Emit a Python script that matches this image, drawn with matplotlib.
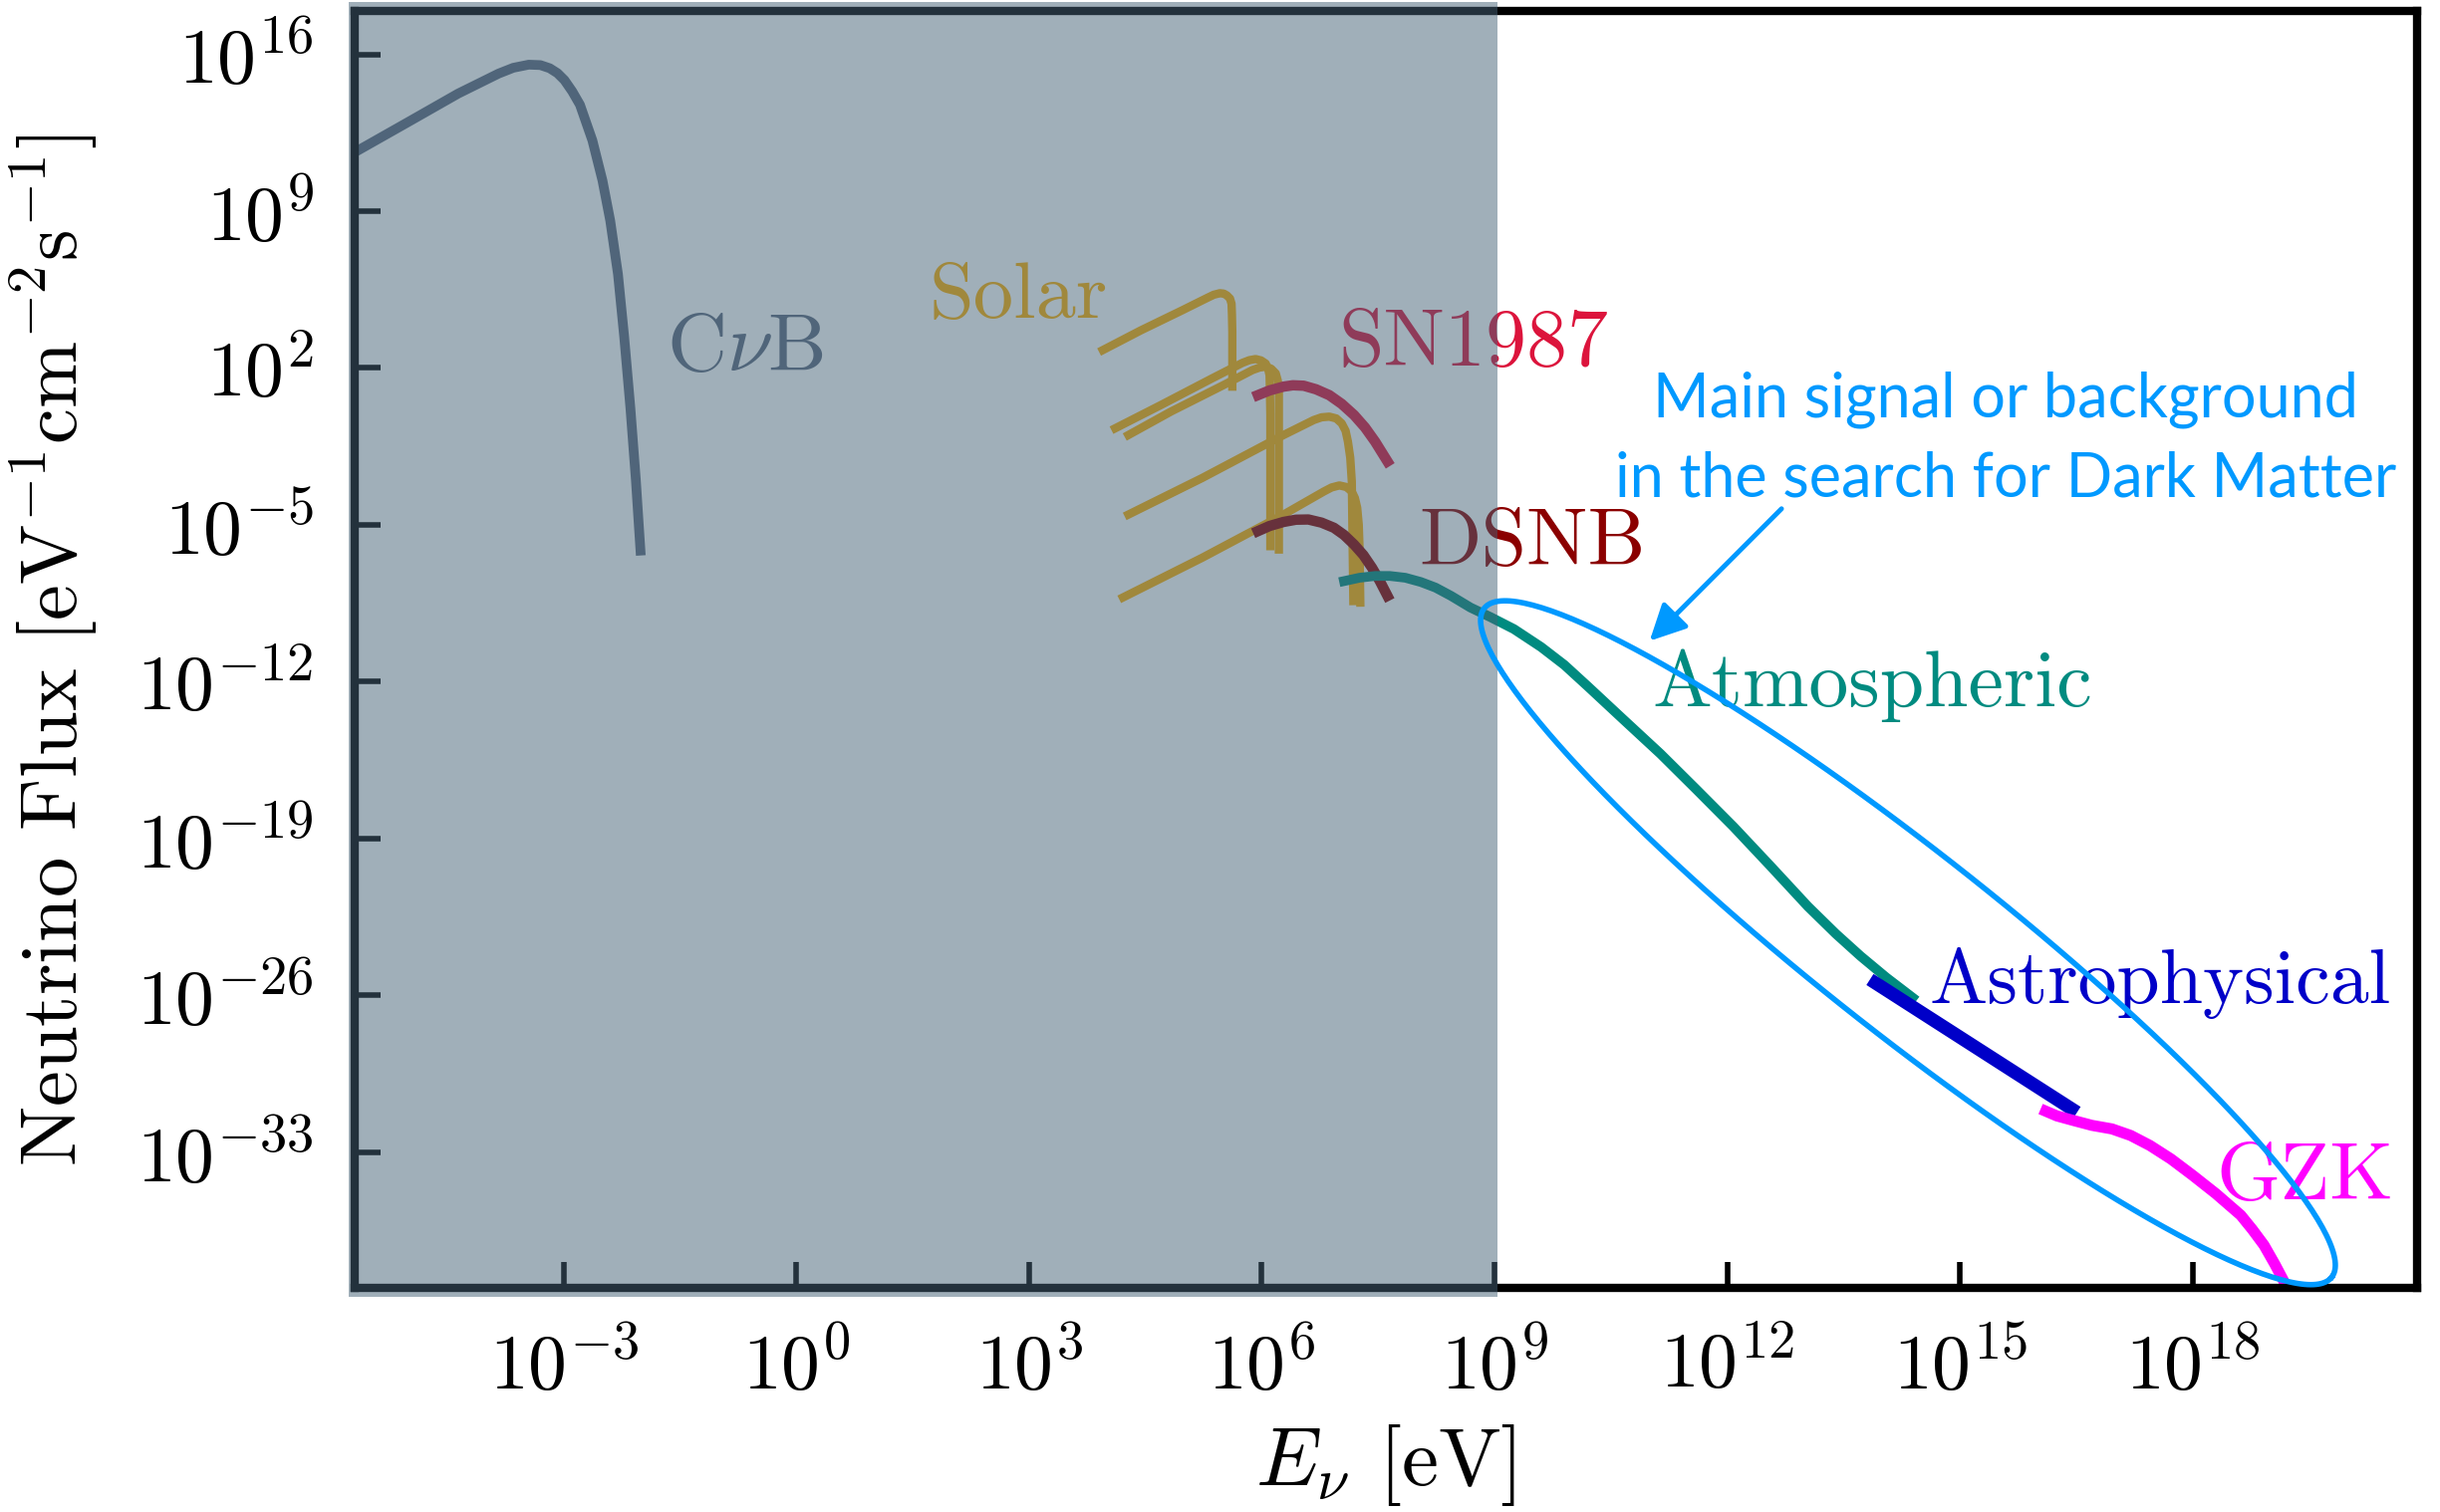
import numpy as np
import matplotlib.pyplot as plt
from matplotlib import font_manager

# All values are log10(E / eV) and log10(flux)
CNUB_LOGE = [-5.75, -5.02, -4.36, -3.84, -3.65, -3.45, -3.30, -3.18, -3.08,
             -2.99, -2.89, -2.79, -2.63, -2.50, -2.40, -2.30, -2.22, -2.14,
             -2.07, -2.01]
CNUB_LOGF = [11.52, 12.95, 14.25, 15.14, 15.40, 15.54, 15.52, 15.38, 15.16,
             14.85, 14.35, 13.75, 12.16, 10.37, 8.58, 6.19, 3.40, 0.22,
             -2.97, -6.15]

SOLAR_LOGE = [
    [3.95, 4.44, 4.97, 5.29, 5.38, 5.46, 5.51, 5.55, 5.59, 5.61, 5.615,
     5.62, 5.62],
    [4.11, 4.70, 5.36, 5.75, 5.84, 5.92, 5.99, 6.05, 6.08, 6.10, 6.105,
     6.11, 6.11],
    [4.28, 4.83, 5.49, 5.88, 5.97, 6.05, 6.12, 6.18, 6.205, 6.22, 6.22,
     6.22],
    [4.28, 5.23, 6.28, 6.67, 6.77, 6.87, 6.96, 7.03, 7.08, 7.11, 7.14, 7.16,
     7.18],
    [4.21, 5.23, 6.28, 6.80, 6.90, 7.00, 7.09, 7.16, 7.20, 7.23, 7.25, 7.26,
     7.27],
]
SOLAR_LOGF = [
    [2.80, 3.68, 4.57, 5.12, 5.27, 5.34, 5.32, 5.24, 5.10, 4.87, 4.40, 3.61,
     1.17],
    [-0.69, 0.35, 1.54, 2.23, 2.35, 2.40, 2.34, 2.20, 1.98, 1.68, 0.90,
     -0.10, -5.95],
    [-0.99, 0.06, 1.21, 1.91, 2.02, 2.06, 1.97, 1.76, 1.45, 1.09, 0.00,
     -6.10],
    [-4.54, -2.91, -0.99, -0.32, -0.20, -0.17, -0.25, -0.47, -0.80, -1.28,
     -2.00, -3.06, -8.40],
    [-8.24, -6.47, -4.54, -3.51, -3.33, -3.24, -3.31, -3.51, -3.80, -4.24,
     -5.00, -6.02, -8.47],
]

SN1987_LOGE = [5.95, 6.10, 6.28, 6.40, 6.54, 6.70, 6.87, 7.03, 7.19, 7.33,
               7.46, 7.62]
SN1987_LOGF = [0.79, 1.00, 1.17, 1.23, 1.21, 1.05, 0.79, 0.40, -0.10, -0.65,
               -1.28, -2.17]

DSNB_LOGE = [5.95, 6.10, 6.28, 6.44, 6.60, 6.77, 6.93, 7.06, 7.19, 7.31,
             7.42, 7.52, 7.62]
DSNB_LOGF = [-5.28, -5.05, -4.87, -4.77, -4.76, -4.90, -5.13, -5.45, -5.88,
             -6.35, -6.91, -7.50, -8.17]

ATM_LOGE = [7.06, 7.26, 7.46, 7.65, 7.85, 8.05, 8.24, 8.44, 8.69, 8.95,
            9.25, 9.60, 9.90, 10.20, 10.65, 11.14, 11.60, 12.08, 12.55,
            13.04, 13.40, 13.72, 14.05, 14.39]
ATM_LOGF = [-7.51, -7.36, -7.28, -7.28, -7.36, -7.55, -7.80, -8.17, -8.69,
            -9.12, -9.65, -10.45, -11.25, -12.20, -13.65, -15.22, -16.80,
            -18.47, -20.20, -22.03, -23.25, -24.25, -25.20, -26.10]

ASTRO_LOGE = [13.84, 16.51]
ASTRO_LOGF = [-25.29, -31.22]

GZK_LOGE = [16.04, 16.25, 16.47, 16.70, 16.96, 17.20, 17.45, 17.72, 18.00,
            18.30, 18.62, 18.77, 18.92, 19.06, 19.20]
GZK_LOGF = [-31.07, -31.38, -31.59, -31.80, -31.96, -32.25, -32.70, -33.30,
            -34.03, -34.85, -35.81, -36.45, -37.15, -38.00, -38.92]

# text, left log10 E, baseline log10 flux, colour, size
LABELS = [
    (r'C$\nu$B', -1.68, 1.90, '#5c6a7f', 60),
    ('Solar', 1.71, 4.26, '#ffb000', 58),
    ('SN1987', 6.99, 2.11, '#dc143c', 59),
    ('DSNB', 8.03, -6.78, '#8b0000', 59),
    ('Atmospheric', 11.04, -13.10, '#008b80', 57.5),
    ('Astrophysical', 14.61, -26.36, '#0000c8', 56),
    ('GZK', 18.30, -35.11, '#ff00ff', 59),
]

XTICKS_LOG = [-3, 0, 3, 6, 9, 12, 15, 18]
YTICKS_LOG = [16, 9, 2, -5, -12, -19, -26, -33]
XLIM_LOG = (-5.69, 20.89)
YLIM_LOG = (-39.07, 17.94)
SHADE_MAX_LOG = 9.04

# DM region ellipse (centre in log10, semi axes in decades of E)
ELL_CENTER = (14.33, -23.65)
ELL_A, ELL_B, ELL_ANGLE = 6.96, 1.163, 38.3
ARROW_FROM = (12.70, -4.28)
ARROW_TO = (11.0, -10.18)
DM_TEXT = ['Main signal or background', 'in the search for Dark Matter']
DM_TEXT_X = 15.59
DM_TEXT_Y = [-0.18, -3.72]
DM_BLUE = '#0099ff'

plt.rcParams['font.family'] = 'serif'
plt.rcParams['font.serif'] = ['cmr10']
plt.rcParams['mathtext.fontset'] = 'cm'
plt.rcParams['axes.unicode_minus'] = False

names = {f.name for f in font_manager.fontManager.ttflist}
sans = 'Lato' if 'Lato' in names else 'DejaVu Sans'

FIG_W, FIG_H = 24.49, 15.18
AX_RECT = [0.1455, 0.148, 0.845, 0.8448]
fig = plt.figure(figsize=(FIG_W, FIG_H), dpi=100)
ax = fig.add_axes(AX_RECT)
ax.set_xscale('log')
ax.set_yscale('log')


def p10(v):
    return 10.0 ** np.asarray(v, dtype=float)


ax.plot(p10(CNUB_LOGE), p10(CNUB_LOGF), color='#5c6a7f', lw=7)
for le, lf in zip(SOLAR_LOGE, SOLAR_LOGF):
    ax.plot(p10(le), p10(lf), color='#ffb000', lw=6)
ax.plot(p10(SN1987_LOGE), p10(SN1987_LOGF), color='#dc143c', lw=7.5)
ax.plot(p10(DSNB_LOGE), p10(DSNB_LOGF), color='#8b0000', lw=7.5)
ax.plot(p10(ATM_LOGE), p10(ATM_LOGF), color='#008b80', lw=7)
ax.plot(p10(ASTRO_LOGE), p10(ASTRO_LOGF), color='#0000c8', lw=9.5,
        solid_capstyle='butt')
ax.plot(p10(GZK_LOGE), p10(GZK_LOGF), color='#ff00ff', lw=8,
        solid_capstyle='butt')

for txt, lx, ly, col, fs in LABELS:
    ax.text(10 ** lx, 10 ** ly, txt, color=col, fontsize=fs,
            ha='left', va='baseline')

# greyish veil over the low-energy part (drawn on top, semi transparent)
ax.axvspan(10 ** (XLIM_LOG[0] - 0.08), 10 ** SHADE_MAX_LOG, ymin=-0.007,
           ymax=1.007, color='#456276', alpha=0.51, lw=0, zorder=4,
           clip_on=False)

# ellipse, drawn in log space keeping the on-screen aspect
px_x = FIG_W * AX_RECT[2] / (XLIM_LOG[1] - XLIM_LOG[0])
px_y = FIG_H * AX_RECT[3] / (YLIM_LOG[1] - YLIM_LOG[0])
ratio = px_x / px_y
th = np.radians(ELL_ANGLE)
t = np.linspace(0, 2 * np.pi, 300)
du = ELL_A * np.cos(t) * np.cos(th) - ELL_B * np.sin(t) * np.sin(th)
dv = -(ELL_A * np.cos(t) * np.sin(th) + ELL_B * np.sin(t) * np.cos(th)) * ratio
ax.plot(p10(ELL_CENTER[0] + du), p10(ELL_CENTER[1] + dv), color=DM_BLUE,
        lw=4, zorder=5)

ax.annotate('', xy=(10 ** ARROW_TO[0], 10 ** ARROW_TO[1]),
            xytext=(10 ** ARROW_FROM[0], 10 ** ARROW_FROM[1]),
            arrowprops=dict(arrowstyle='-|>', color=DM_BLUE, lw=3.5,
                            mutation_scale=55, shrinkA=0, shrinkB=0),
            zorder=5)
for line, ly in zip(DM_TEXT, DM_TEXT_Y):
    ax.text(10 ** DM_TEXT_X, 10 ** ly, line, color=DM_BLUE, fontsize=44,
            family=sans, ha='center', va='baseline', zorder=5)

ax.set_xlim(p10(XLIM_LOG))
ax.set_ylim(p10(YLIM_LOG))
ax.set_xticks(p10(XTICKS_LOG))
ax.set_xticklabels([r'$10^{%d}$' % v for v in XTICKS_LOG])
ax.set_yticks(p10(YTICKS_LOG))
ax.set_yticklabels([r'$10^{%d}$' % v for v in YTICKS_LOG])
ax.minorticks_off()
ax.tick_params(direction='in', length=19, width=4, top=False, right=False,
               labelsize=56, pad=30)
for sp in ax.spines.values():
    sp.set_linewidth(6)

ax.set_xlabel(r'$E_\nu$ [eV]', fontsize=60)
ax.xaxis.set_label_coords(0.5, -0.105)
ax.set_ylabel(r'Neutrino Flux [eV$^{-1}$cm$^{-2}$s$^{-1}$]', fontsize=58)
ax.yaxis.set_label_coords(-0.124, 0.5)

fig.savefig('out.png', dpi=100)
